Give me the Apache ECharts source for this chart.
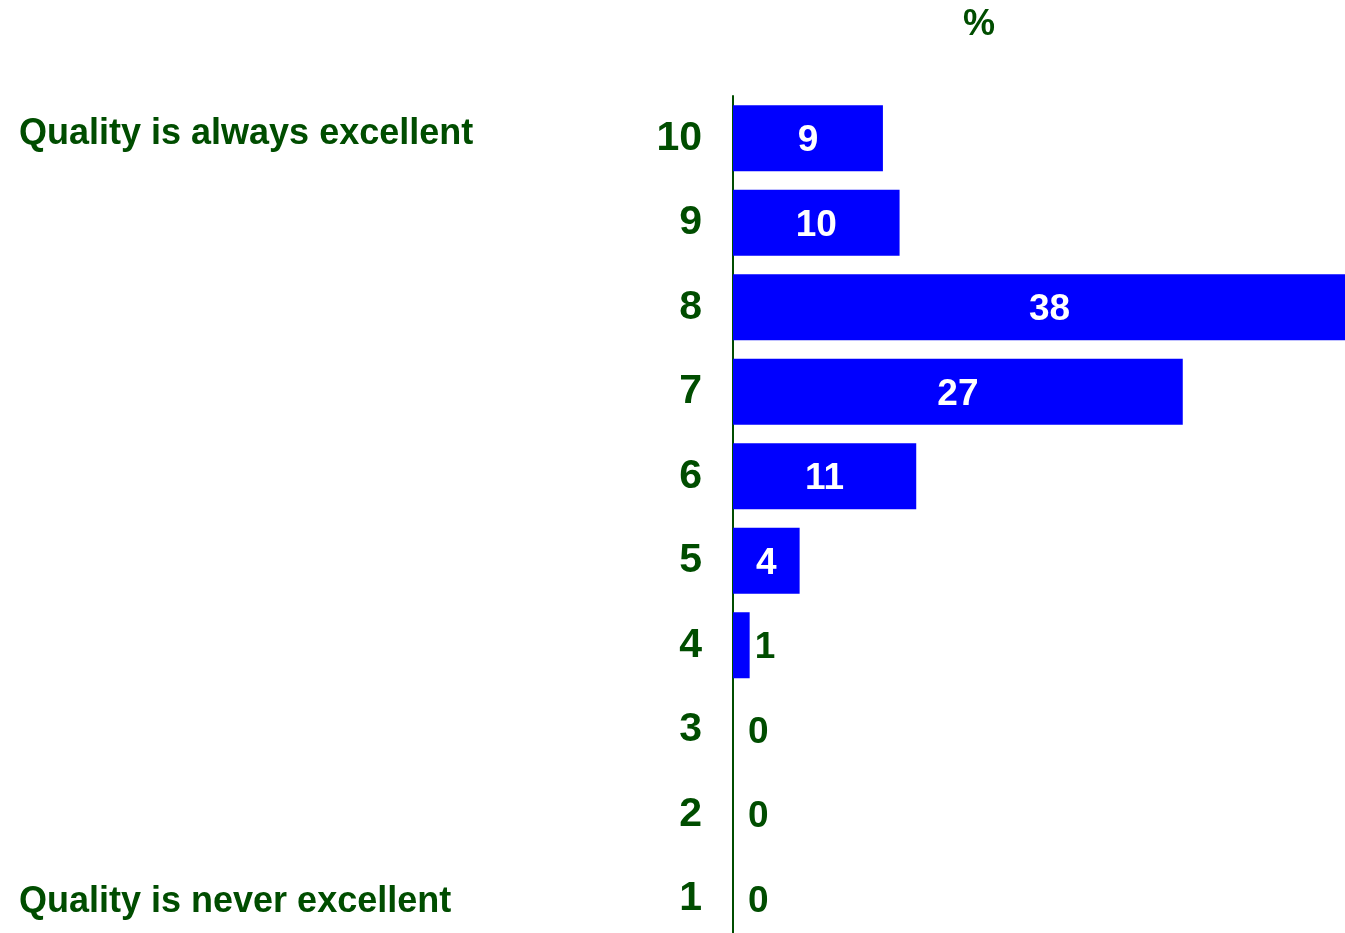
<!DOCTYPE html>
<html>
<head>
<meta charset="utf-8">
<style>
  html, body { margin: 0; padding: 0; background: #fff; }
  #chart { width: 1345px; height: 933px; }
</style>
<script src="https://cdn.jsdelivr.net/npm/echarts@6/dist/echarts.min.js"></script>
</head>
<body>
<div id="chart"></div>
<script>
const categories = ['10', '9', '8', '7', '6', '5', '4', '3', '2', '1'];
const values = [9, 10, 38, 27, 11, 4, 1, 0, 0, 0];
const topLabel = 'Quality is always excellent';
const bottomLabel = 'Quality is never excellent';

const GREEN = '#004d00';
const FONT = '"Liberation Sans", Arial, sans-serif';

const chart = echarts.init(document.getElementById('chart'), null, { renderer: 'canvas' });

// small bars get their label outside, in green
const barData = values.map(v => {
  if (v >= 3) return v;
  return {
    value: v,
    label: {
      position: 'right',
      distance: v === 0 ? 15 : 5,
      color: GREEN
    }
  };
});

chart.setOption({
  animation: false,
  grid: {
    left: 733, top: 96, width: 633, height: 845,
    outerBoundsMode: 'none',
    containLabel: false
  },
  xAxis: {
    type: 'value',
    min: 0,
    max: 38,
    show: false
  },
  yAxis: {
    type: 'category',
    inverse: true,
    data: categories,
    axisLine: { show: true, lineStyle: { color: GREEN, width: 2 } },
    axisTick: { show: false },
    axisLabel: {
      margin: 31,
      padding: [10, 0, 0, 0],
      color: GREEN,
      fontFamily: FONT,
      fontWeight: 'bold',
      fontSize: 41
    }
  },
  series: [{
    type: 'bar',
    data: barData,
    barCategoryGap: '22%',
    itemStyle: { color: '#0000ff' },
    label: {
      show: true,
      position: 'inside',
      offset: [0, 3],
      color: '#fff',
      fontFamily: FONT,
      fontWeight: 'bold',
      fontSize: 37
    }
  }],
  graphic: [
    {
      type: 'text', x: 979, y: 25,
      style: { text: '%', fill: GREEN, font: 'bold 36px ' + FONT, align: 'center', verticalAlign: 'middle' }
    },
    {
      type: 'text', x: 19, y: 134,
      style: { text: topLabel, fill: GREEN, font: 'bold 36px ' + FONT, verticalAlign: 'middle' }
    },
    {
      type: 'text', x: 19, y: 902,
      style: { text: bottomLabel, fill: GREEN, font: 'bold 36px ' + FONT, verticalAlign: 'middle' }
    }
  ]
});
</script>
</body>
</html>
